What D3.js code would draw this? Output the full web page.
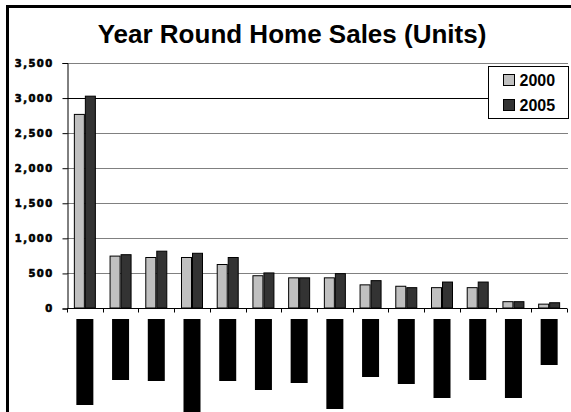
<!DOCTYPE html>
<html>
<head>
<meta charset="utf-8">
<script src="https://cdn.jsdelivr.net/npm/d3@7"></script>
<style>
  body { margin: 0; background: #fff; }
  svg { display: block; }
</style>
</head>
<body>
<svg id="chart" width="571" height="412"></svg>
<script>
// Year round home sales, 2000 vs 2005 (category names are blacked out in the source)
const categories = ['Town 1', 'Town 2', 'Town 3', 'Town 4', 'Town 5', 'Town 6', 'Town 7',
  'Town 8', 'Town 9', 'Town 10', 'Town 11', 'Town 12', 'Town 13', 'Town 14'];
const sales2000 = [2760, 740, 720, 720, 620, 460, 430, 430, 330, 310, 290, 290, 90, 55];
const sales2005 = [3020, 760, 810, 780, 720, 500, 430, 490, 390, 290, 370, 370, 90, 75];
const yTicks = [0, 500, 1000, 1500, 2000, 2500, 3000, 3500];
const series = ['2000', '2005'];
// length of the redaction box over each category label
const redactedLabelPx = [86, 61, 62, 95, 62, 71, 64, 90, 58, 65, 79, 61, 79, 46];

const svg = d3.select('#chart');
const margin = { top: 62.5, left: 67, right: 4, bottom: 104 };
const W = 571, H = 412;

// outer frame, cropped at right/bottom like the source
svg.append('rect')
  .attr('x', 7.5).attr('y', 6.5)
  .attr('width', 700).attr('height', 600)
  .attr('fill', 'none').attr('stroke', '#000').attr('stroke-width', 3);

svg.append('text')
  .attr('x', 292).attr('y', 43)
  .attr('text-anchor', 'middle')
  .attr('font-family', 'Liberation Sans, Arial, sans-serif')
  .attr('font-weight', 'bold')
  .attr('font-size', '26px')
  .text('Year Round Home Sales (Units)');

const x0 = d3.scaleBand().domain(categories).range([margin.left, W - margin.right]);
const x1 = d3.scaleBand().domain(series).range([x0.bandwidth() / 2 - 11, x0.bandwidth() / 2 + 11]);
const y = d3.scaleLinear().domain([0, 3500]).range([H - margin.bottom, margin.top]);

// gridlines
svg.append('g').selectAll('line')
  .data(yTicks.filter(d => d > 0))
  .enter().append('line')
  .attr('x1', margin.left).attr('x2', W - margin.right + 1)
  .attr('y1', d => Math.round(y(d)) + 0.5).attr('y2', d => Math.round(y(d)) + 0.5)
  .attr('stroke', d => d === 3000 ? '#000' : '#808080')
  .attr('stroke-width', 1);

// y axis
const yAxis = svg.append('g')
  .attr('transform', `translate(${margin.left + 0.5},0.5)`)
  .call(d3.axisLeft(y).tickValues(yTicks).tickSize(5).tickPadding(9).tickFormat(d3.format(',')));
yAxis.select('.domain').attr('stroke', '#000');
yAxis.selectAll('.tick line').attr('stroke', '#000');
yAxis.selectAll('text')
  .attr('font-family', 'DejaVu Sans, Verdana, sans-serif')
  .attr('font-weight', 'bold')
  .attr('font-size', '10px')
  .attr('letter-spacing', '1.4px')
  .attr('stroke', '#000')
  .attr('stroke-width', 0.6)
  .attr('fill', '#000');

// bars
const groups = svg.append('g').selectAll('g')
  .data(categories)
  .enter().append('g')
  .attr('transform', d => `translate(${x0(d)},0)`);

groups.selectAll('rect')
  .data((d, i) => [
    { key: '2000', v: sales2000[i] },
    { key: '2005', v: sales2005[i] }
  ])
  .enter().append('rect')
  .attr('x', d => x1(d.key) + 0.5)
  .attr('y', d => y(d.v))
  .attr('width', x1.bandwidth() - 1)
  .attr('height', d => y(0) - y(d.v))
  .attr('fill', d => d.key === '2000' ? '#c0c0c0' : '#333333')
  .attr('stroke', '#000')
  .attr('stroke-width', 1);

// x axis with ticks on category boundaries
const xAxisG = svg.append('g').attr('transform', `translate(0,${Math.round(y(0)) + 0.5})`);
xAxisG.append('line')
  .attr('x1', margin.left).attr('x2', W - margin.right)
  .attr('stroke', '#000');
const bounds = categories.map(c => x0(c)).concat([x0.range()[1]]);
xAxisG.selectAll('.xt')
  .data(bounds)
  .enter().append('line')
  .attr('class', 'xt')
  .attr('x1', d => Math.round(d) + 0.5).attr('x2', d => Math.round(d) + 0.5)
  .attr('y1', 0).attr('y2', 4)
  .attr('stroke', '#000');

// redacted category labels
svg.append('g').selectAll('rect')
  .data(categories)
  .enter().append('rect')
  .attr('x', d => x0(d) + x0.bandwidth() / 2 - 8.5)
  .attr('y', 319)
  .attr('width', 17)
  .attr('height', (d, i) => redactedLabelPx[i])
  .attr('fill', '#000');

// legend
const legend = svg.append('g').attr('transform', 'translate(488.5,66.5)');
legend.append('rect')
  .attr('width', 80).attr('height', 52)
  .attr('fill', '#fff').attr('stroke', '#000');
series.forEach((s, i) => {
  legend.append('rect')
    .attr('x', 15).attr('y', 8 + i * 25)
    .attr('width', 11).attr('height', 11)
    .attr('fill', i === 0 ? '#c0c0c0' : '#333333')
    .attr('stroke', '#000');
  legend.append('text')
    .attr('x', 31).attr('y', 19.5 + i * 25)
    .attr('font-family', 'Liberation Sans, Arial, sans-serif')
    .attr('font-weight', 'bold')
    .attr('font-size', '16px')
    .text(s);
});
</script>
</body>
</html>
